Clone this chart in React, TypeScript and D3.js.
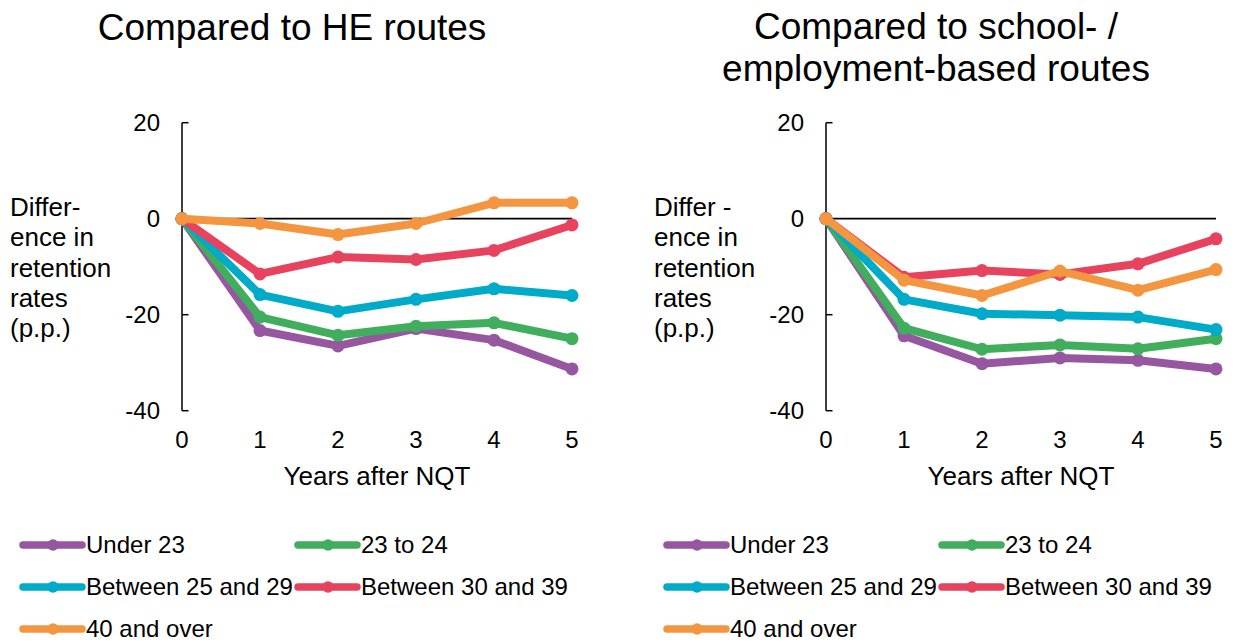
import React from "react";
import * as d3 from "d3";

const years = [0, 1, 2, 3, 4, 5];
const ageGroups = ["Under 23", "23 to 24", "Between 25 and 29", "Between 30 and 39", "40 and over"];
const seriesColors = ["#9656A0", "#40AE5C", "#00ABC9", "#E8435E", "#F4963F"];
const yTicks = [20, 0, -20, -40];

// Compared to HE routes
const under23He = [0, -23.3, -26.5, -22.9, -25.3, -31.3];
const age23to24He = [0, -20.5, -24.3, -22.4, -21.7, -25.0];
const age25to29He = [0, -15.8, -19.3, -16.8, -14.6, -16.0];
const age30to39He = [0, -11.5, -8.0, -8.5, -6.6, -1.3];
const over40He = [0, -1.0, -3.3, -1.0, 3.3, 3.3];

// Compared to school- / employment-based routes
const under23Sch = [0, -24.4, -30.2, -29.0, -29.5, -31.3];
const age23to24Sch = [0, -22.8, -27.2, -26.3, -27.1, -25.0];
const age25to29Sch = [0, -16.8, -19.8, -20.1, -20.5, -23.1];
const age30to39Sch = [0, -12.2, -10.8, -11.6, -9.4, -4.2];
const over40Sch = [0, -12.8, -16.0, -10.9, -14.9, -10.6];

const FONT = "'Liberation Sans', Arial, sans-serif";
const LINE_W = 8;
const MARKER_R = 6.5;

type PanelProps = {
  offsetX: number;
  titleLines: string[];
  titleX: number;
  yLabelLines: string[];
  series: number[][];
};

function Panel({ offsetX, titleLines, titleX, yLabelLines, series }: PanelProps) {
  const x = d3.scaleLinear().domain([0, 5]).range([182 + offsetX, 572 + offsetX]);
  const y = d3.scaleLinear().domain([-40, 20]).range([410.7, 122.7]);
  const line = d3
    .line<number>()
    .x((_, i) => x(years[i]))
    .y((d) => y(d));
  const axisX = x(0);

  return (
    <g>
      {titleLines.map((t, i) => (
        <text
          key={t}
          x={titleX}
          y={titleLines.length === 1 ? 40 : 39 + i * 42}
          textAnchor="middle"
          fontSize={37}
          fontFamily={FONT}
          fill="#000"
        >
          {t}
        </text>
      ))}
      {yLabelLines.map((t, i) => (
        <text key={t} x={10 + offsetX} y={216 + i * 30.3} fontSize={26} fontFamily={FONT} fill="#000">
          {t}
        </text>
      ))}
      {/* y axis */}
      <line x1={axisX} x2={axisX} y1={y(20)} y2={y(-40)} stroke="#000" strokeWidth={1.5} />
      {yTicks.map((t) => (
        <g key={t}>
          <line x1={axisX} x2={axisX + 6.5} y1={y(t)} y2={y(t)} stroke="#000" strokeWidth={1.5} />
          <text
            x={axisX - 22}
            y={y(t)}
            dy="0.35em"
            textAnchor="end"
            fontSize={24}
            fontFamily={FONT}
            fill="#000"
          >
            {t}
          </text>
        </g>
      ))}
      {/* zero line */}
      <line x1={axisX} x2={x(5)} y1={y(0)} y2={y(0)} stroke="#000" strokeWidth={1.8} />
      {years.map((yr) => (
        <text key={yr} x={x(yr)} y={448} textAnchor="middle" fontSize={24} fontFamily={FONT} fill="#000">
          {yr}
        </text>
      ))}
      <text x={(x(0) + x(5)) / 2} y={485} textAnchor="middle" fontSize={26} fontFamily={FONT} fill="#000">
        Years after NQT
      </text>
      {series.map((s, si) => (
        <g key={si}>
          <path
            d={line(s) || ""}
            fill="none"
            stroke={seriesColors[si]}
            strokeWidth={LINE_W}
            strokeLinejoin="round"
            strokeLinecap="round"
          />
          {s.map((v, i) => (
            <circle key={i} cx={x(years[i])} cy={y(v)} r={MARKER_R} fill={seriesColors[si]} />
          ))}
        </g>
      ))}
      {/* legend */}
      {ageGroups.map((g, i) => {
        const col = i % 2;
        const row = Math.floor(i / 2);
        const lx = 23 + offsetX + col * 275;
        const ly = 545 + row * 42;
        return (
          <g key={g}>
            <line
              x1={lx}
              x2={lx + 59}
              y1={ly}
              y2={ly}
              stroke={seriesColors[i]}
              strokeWidth={7.5}
              strokeLinecap="round"
            />
            <circle cx={lx + 30} cy={ly} r={5.8} fill={seriesColors[i]} />
            <text x={lx + 63} y={ly} dy="0.35em" fontSize={24} fontFamily={FONT} fill="#000">
              {g}
            </text>
          </g>
        );
      })}
    </g>
  );
}

export default function App() {
  return (
    <svg
      width={1234}
      height={642}
      style={{ position: "absolute", left: 0, top: 0, display: "block", background: "#fff" }}
    >
      <Panel
        offsetX={0}
        titleLines={["Compared to HE routes"]}
        titleX={292}
        yLabelLines={["Differ-", "ence in", "retention", "rates", "(p.p.)"]}
        series={[under23He, age23to24He, age25to29He, age30to39He, over40He]}
      />
      <Panel
        offsetX={644}
        titleLines={["Compared to school- /", "employment-based routes"]}
        titleX={936}
        yLabelLines={["Differ -", "ence in", "retention", "rates", "(p.p.)"]}
        series={[under23Sch, age23to24Sch, age25to29Sch, age30to39Sch, over40Sch]}
      />
    </svg>
  );
}
